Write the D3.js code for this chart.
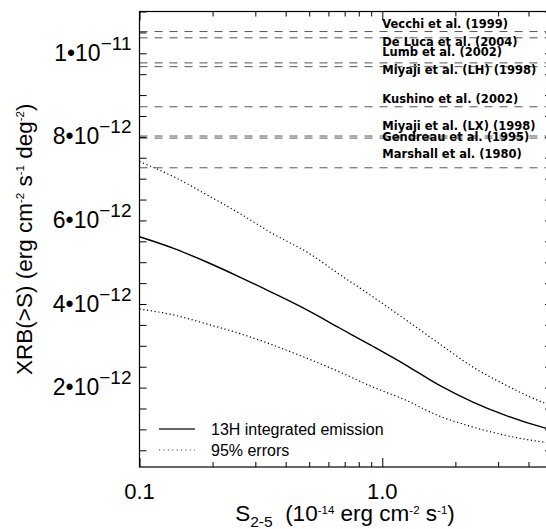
<!DOCTYPE html>
<html>
<head>
<meta charset="utf-8">
<script src="https://cdn.jsdelivr.net/npm/d3@7"></script>
<style>
  html, body { margin: 0; padding: 0; background: #fff; }
  svg { display: block; font-family: "Liberation Sans", Arial, sans-serif; }
</style>
</head>
<body>
<svg id="chart" width="546" height="529"></svg>
<script>
// Limiting flux S (10^-14 erg cm^-2 s^-1) at which the integrated emission is evaluated
const fluxS = [0.1, 0.14, 0.19, 0.26, 0.35, 0.5, 0.67, 0.9, 1.25, 1.7, 2.35, 3.2, 4.7, 5.0];
// Integrated background above S, in units of 1e-12 erg cm^-2 s^-1 deg^-2
const xrbBest  = [5.61, 5.32, 5.00, 4.64, 4.28, 3.83, 3.42, 3.01, 2.54, 2.07, 1.66, 1.34, 1.03, 0.99];
const xrbUpper = [7.41, 7.03, 6.61, 6.16, 5.70, 5.21, 4.70, 4.20, 3.62, 3.07, 2.50, 2.07, 1.62, 1.56];
const xrbLower = [3.88, 3.73, 3.52, 3.29, 3.03, 2.68, 2.37, 2.03, 1.70, 1.33, 1.06, 0.86, 0.69, 0.67];

// Total background measurements (1e-12 erg cm^-2 s^-1 deg^-2)
const refNames = ["Vecchi et al. (1999)", "De Luca et al. (2004)", "Lumb et al. (2002)",
  "Miyaji et al. (LH) (1998)", "Kushino et al. (2002)", "Miyaji et al. (LX) (1998)",
  "Gendreau et al. (1995)", "Marshall et al. (1980)"];
const refXRB = [10.52, 10.37, 9.77, 9.68, 8.72, 8.02, 7.97, 7.26];

// Axis ticks
const yMajor = [2, 4, 6, 8, 10];
const yTickMant = ["2", "4", "6", "8", "1"];
const yTickExp = ["\u221212", "\u221212", "\u221212", "\u221212", "\u221211"];
const xMajor = [0.1, 1.0];
const xTickLabels = ["0.1", "1.0"];
const xMinor = [0.2, 0.3, 0.4, 0.5, 0.6, 0.7, 0.8, 0.9, 2, 3, 4];

const legendLabels = ["13H integrated emission", "95% errors"];

// ---- layout ----
const X0 = 139.5, X1 = 552, Y0 = 467, Y1 = 11.5;
// vertical nudge of each reference label's baseline relative to its line
const refLabelDy = [-3.8, 7.7, -6.7, 7.7, -3.7, -5.6, 3, -9.3];

const svg = d3.select("#chart");
const x = d3.scaleLog().domain([0.1, 5]).range([X0, X1]);
const y = d3.scaleLinear().domain([0.1, 11]).range([Y0, Y1]);

svg.append("defs").append("clipPath").attr("id", "plot")
  .append("rect").attr("x", X0).attr("y", Y1).attr("width", X1 - X0).attr("height", Y0 - Y1);

const plot = svg.append("g").attr("clip-path", "url(#plot)");

// reference levels
plot.selectAll("line.ref").data(refXRB).join("line")
  .attr("class", "ref")
  .attr("x1", X0).attr("x2", X1)
  .attr("y1", d => y(d)).attr("y2", d => y(d))
  .attr("stroke", "#555").attr("stroke-width", 1)
  .attr("stroke-dasharray", "8,7");

// curves
const line = (vals) => d3.line()
  .x((d, i) => x(fluxS[i]))
  .y(d => y(d))
  .curve(d3.curveMonotoneX)(vals);

plot.append("path").attr("d", line(xrbUpper))
  .attr("fill", "none").attr("stroke", "#000").attr("stroke-width", 1.2)
  .attr("stroke-dasharray", "1.2,2.6");
plot.append("path").attr("d", line(xrbLower))
  .attr("fill", "none").attr("stroke", "#000").attr("stroke-width", 1.2)
  .attr("stroke-dasharray", "1.2,2.6");
plot.append("path").attr("d", line(xrbBest))
  .attr("fill", "none").attr("stroke", "#000").attr("stroke-width", 1.4);

// reference labels
svg.selectAll("text.ref").data(refNames).join("text")
  .attr("class", "ref")
  .attr("x", x(1.0))
  .attr("y", (d, i) => y(refXRB[i]) + refLabelDy[i])
  .attr("font-family", "'DejaVu Sans', sans-serif")
  .attr("font-size", 11.5).attr("font-weight", "bold")
  .attr("fill", "#000")
  .text(d => d);

// ---- axes ----
const yMinor = d3.range(0.5, 11.01, 0.5);
function styleAxis(g) {
  g.select(".domain").remove();
  g.selectAll(".tick line").attr("stroke", "#000");
  g.selectAll(".tick text").remove();
}
svg.append("g").attr("transform", `translate(${X0},0)`)
  .call(d3.axisLeft(y).tickValues(yMinor).tickSize(-7).tickFormat(""))
  .call(styleAxis);
svg.append("g").attr("transform", `translate(${X1},0)`)
  .call(d3.axisRight(y).tickValues(yMinor).tickSize(-7).tickFormat(""))
  .call(styleAxis);
svg.append("g").attr("transform", `translate(0,${Y0})`)
  .call(d3.axisBottom(x).tickValues(xMinor).tickSize(-5).tickFormat(""))
  .call(styleAxis);
svg.append("g").attr("transform", `translate(0,${Y0})`)
  .call(d3.axisBottom(x).tickValues(xMajor).tickSize(-9).tickFormat(""))
  .call(styleAxis);
svg.append("g").attr("transform", `translate(0,${Y1})`)
  .call(d3.axisTop(x).tickValues(xMinor).tickSize(-5).tickFormat(""))
  .call(styleAxis);
svg.append("g").attr("transform", `translate(0,${Y1})`)
  .call(d3.axisTop(x).tickValues(xMajor).tickSize(-9).tickFormat(""))
  .call(styleAxis);

// frame
svg.append("rect").attr("x", X0).attr("y", Y1)
  .attr("width", X1 - X0).attr("height", Y0 - Y1)
  .attr("fill", "none").attr("stroke", "#000").attr("stroke-width", 1.2);

// y tick labels  m•10^e
const yl = svg.selectAll("text.ytick").data(yMajor).join("text")
  .attr("class", "ytick")
  .attr("x", X0 - 8).attr("y", d => y(d) + 7.5)
  .attr("text-anchor", "end").attr("font-size", 23).attr("fill", "#000");
yl.append("tspan").text((d, i) => yTickMant[i] + "\u2022" + "10");
yl.append("tspan").attr("dy", -11).attr("font-size", 19).text((d, i) => yTickExp[i]);

// x tick labels
svg.selectAll("text.xtick").data(xMajor).join("text")
  .attr("class", "xtick")
  .attr("x", d => x(d)).attr("y", 499)
  .attr("text-anchor", "middle").attr("font-size", 22).attr("fill", "#000")
  .text((d, i) => xTickLabels[i]);

// axis titles
const xt = svg.append("text").attr("x", 345).attr("y", 521)
  .attr("text-anchor", "middle").attr("font-size", 22.5).attr("fill", "#000")
  .style("white-space", "pre");
xt.append("tspan").text("S");
xt.append("tspan").attr("dy", 5.5).attr("font-size", 15.5).text("2-5");
xt.append("tspan").attr("dy", -5.5).text("  (10");
xt.append("tspan").attr("dy", -7.5).attr("font-size", 11.5).text("-14");
xt.append("tspan").attr("dy", 7.5).text(" erg cm");
xt.append("tspan").attr("dy", -7.5).attr("font-size", 11.5).text("-2");
xt.append("tspan").attr("dy", 7.5).text(" s");
xt.append("tspan").attr("dy", -7.5).attr("font-size", 11.5).text("-1");
xt.append("tspan").attr("dy", 7.5).text(")");

const ytl = svg.append("text")
  .attr("transform", `translate(32,${(Y0 + Y1) / 2}) rotate(-90)`)
  .attr("text-anchor", "middle").attr("font-size", 22.5).attr("fill", "#000")
  .style("white-space", "pre");
ytl.append("tspan").text("XRB(>S) (erg cm");
ytl.append("tspan").attr("dy", -8.5).attr("font-size", 11.5).text("-2");
ytl.append("tspan").attr("dy", 8.5).text(" s");
ytl.append("tspan").attr("dy", -8.5).attr("font-size", 11.5).text("-1");
ytl.append("tspan").attr("dy", 8.5).text(" deg");
ytl.append("tspan").attr("dy", -8.5).attr("font-size", 11.5).text("-2");
ytl.append("tspan").attr("dy", 8.5).text(")");

// legend
const legend = svg.append("g");
const legendRows = legend.selectAll("g").data(legendLabels).join("g")
  .attr("transform", (d, i) => `translate(159,${429 + i * 21})`);
legendRows.append("line")
  .attr("x1", 0).attr("x2", 36).attr("y1", 0).attr("y2", 0)
  .attr("stroke", (d, i) => i === 0 ? "#666" : "#444")
  .attr("stroke-width", (d, i) => i === 0 ? 1.8 : 1.2)
  .attr("stroke-dasharray", (d, i) => i === 0 ? null : "1.2,3.2");
legendRows.append("text")
  .attr("x", 52).attr("y", 5.6)
  .attr("font-size", 16).attr("fill", "#000")
  .text(d => d);
</script>
</body>
</html>
